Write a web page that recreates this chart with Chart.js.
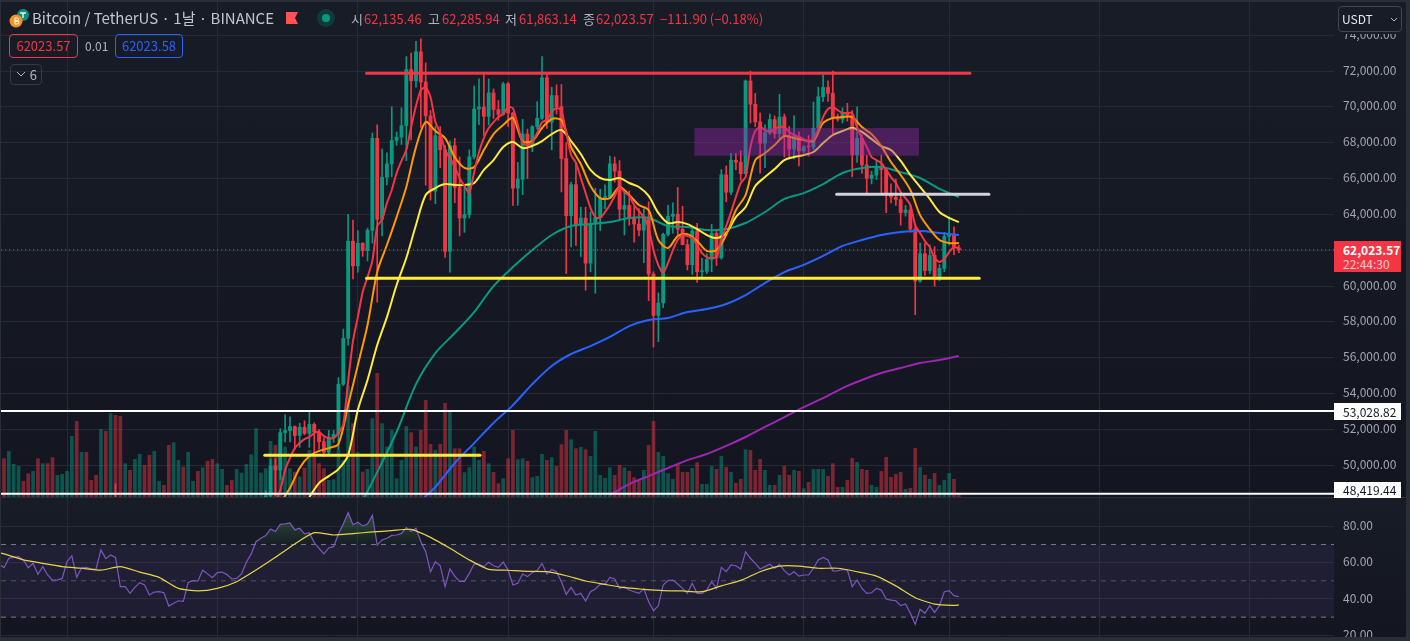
<!DOCTYPE html>
<html>
<head>
<meta charset="utf-8">
<script src="https://cdn.jsdelivr.net/npm/chart.js@4"></script>
<style>
html, body { margin: 0; padding: 0; width: 1410px; height: 641px; overflow: hidden; background: #2a2e39; }
body { position: relative; font-family: "Noto Sans CJK KR", "Noto Sans", sans-serif; }
.pane { position: absolute; left: 1px; width: 1405px; }
#pricePane { top: 2px; height: 495px; background: linear-gradient(#181c27, #131620); }
#rsiPane { top: 498px; height: 139px; background: linear-gradient(#181c27, #131620); }
canvas { display: block; }
.abs { position: absolute; white-space: nowrap; }
.tag { position: absolute; left: 1334px; width: 67px; box-sizing: border-box; padding-left: 9px; font-size: 12px; }
#legend span { position: absolute; top: 10px; font-size: 13px; line-height: 18px; white-space: nowrap; }
.lbl { color: #b2b5be; }
.val { color: #f23645; }
.box { position: absolute; box-sizing: border-box; border-radius: 4px; text-align: center; font-size: 13px; }
</style>
</head>
<body>
<div class="pane" id="pricePane"><canvas id="price" width="1405" height="495"></canvas></div>
<div class="pane" id="rsiPane"><canvas id="rsi" width="1405" height="139"></canvas></div>

<svg class="abs" style="left:8px;top:7px" width="24" height="22">
  <circle cx="15" cy="8" r="6" fill="#0b8f7c"/>
  <path d="M12 6h6M15 6v5" stroke="#e8f5f2" stroke-width="1.4"/>
  <circle cx="8" cy="14" r="6.5" fill="#f7931a"/>
  <path d="M7 10.5v7M7 11h2a1.4 1.4 0 0 1 0 3H7M7 14h2.4a1.5 1.5 0 0 1 0 3H7" stroke="#fff" stroke-width="1" fill="none"/>
</svg>
<div class="abs" id="title" style="left:32px;top:8px;font-size:15px;line-height:20px;color:#c3c6ce">Bitcoin / TetherUS · 1날 · BINANCE</div>
<svg class="abs" style="left:286px;top:12px" width="13" height="12"><path d="M0 0H12L9 6L12 12H0Z" fill="#ff5252"/></svg>
<svg class="abs" style="left:317px;top:9px" width="18" height="18"><circle cx="9" cy="9" r="9" fill="#0f3a3a"/><circle cx="9" cy="9" r="4" fill="#089981"/></svg>
<div id="legend">
  <span class="lbl" style="left:351px">시</span><span class="val" style="left:364px">62,135.46</span>
  <span class="lbl" style="left:428px">고</span><span class="val" style="left:442px">62,285.94</span>
  <span class="lbl" style="left:505px">저</span><span class="val" style="left:519px">61,863.14</span>
  <span class="lbl" style="left:583px">종</span><span class="val" style="left:596px">62,023.57</span>
  <span class="val" style="left:660px">−111.90 (−0.18%)</span>
</div>
<div class="box" style="left:9px;top:34px;width:69px;height:24px;line-height:22px;border:1px solid #f23645;color:#f23645">62023.57</div>
<div class="abs" style="left:85px;top:37px;font-size:12px;line-height:18px;color:#b2b5be">0.01</div>
<div class="box" style="left:115px;top:34px;width:68px;height:24px;line-height:22px;border:1px solid #2962ff;color:#2962ff">62023.58</div>
<div class="box" style="left:10px;top:64px;width:32px;height:21px;border:1px solid #363a45;line-height:19px;color:#b2b5be;text-align:right;padding-right:4px">6
  <svg class="abs" style="left:5px;top:6px" width="10" height="7"><path d="M1 1L5 5L9 1" stroke="#b2b5be" fill="none"/></svg>
</div>
<div class="box" style="left:1338px;top:6px;width:64px;height:26px;border:1px solid #434651;background:#181c27;box-shadow:0 2px 0 #181c27;color:#e6e8ee;font-size:12px;line-height:24px;text-align:left;padding-left:3px">USDT
  <svg class="abs" style="left:51px;top:10px" width="8" height="6"><path d="M1 1L4 4L7 1" stroke="#b2b5be" fill="none"/></svg>
</div>

<script>
// bar numbers: 0 is the left-most daily bar, months start at these bars
const monthStarts = [13, 44, 73, 104, 134, 165, 195, 226, 257];
const firstBar = -0.62;
const lastBar = 274.4;

const priceTicks = [74000, 72000, 70000, 68000, 66000, 64000, 62000, 60000, 58000, 56000, 54000, 52000, 50000];
const rsiTicks = [80, 60, 40, 20];

// candles, first one is bar 54
const candleStart = 54;
const opens = [47800,48293,49958,49742,51826,51938,52160,51662,52122,51780,52284,51860,51320,50731,51571,51733,54522,57085,62504,61130,62387,61987,63113,68245,63724,66074,66823,68124,68313,68955,72078,71452,73072,71388,69499,65300,68393,67609,61937,67840,65501,63796,63990,67209,69880,69988,69469,70780,69850,69582,71280,69650,65463,65963,68487,67820,68896,69360,71620,69146,70631,70006,67116,63924,65661,63419,63793,61277,63470,63818,64940,64960,66819,66414,64289,64498,63770,63461,63118,63866,60672,58364,59060,62882,63892,64012,63165,62312,61193,63074,60799,60825,61483,62940,61577,66206,65235,67024,66915,66274,71446,70148,69166,67969,68549,69290,68507,69436,68398,67652,68352,67540,67766,67765,68809,70567,71082,70757,69342,69310,69648,69538,67321,68243,66756,66011,66191,66639,66490,65140,64960,64828,64096,64245,63180,60277,61806,60864,61706,60427,60986,62772,62900,62135.46];
const highs = [48592,50334,50368,52043,52816,52700,52200,52350,52480,53000,52371,52000,51540,51950,51950,54900,57600,64000,63680,63100,62430,63230,68540,69000,67650,67430,70000,68600,69940,72800,73000,73650,73800,72450,69800,68900,68900,67850,68100,68240,67200,65500,67600,71160,71560,71780,71550,71000,70350,71370,71370,69700,66900,69300,68760,68950,70300,72800,71780,71100,71230,71250,68000,65800,66870,64400,64400,64130,65450,65400,65650,67250,67200,67000,65300,65300,64450,64320,64300,64700,60800,59620,62950,64500,64650,65500,64450,62600,63200,63500,61550,61800,63450,63150,66500,66700,67400,67400,67550,71500,72000,70750,69650,69000,69600,69500,70700,69600,68900,69500,68600,67850,68400,70270,71100,71780,71450,72000,69600,69950,70200,69800,70000,68450,67300,66400,67000,67300,66600,65700,65970,65150,64500,64550,63360,62400,62400,62300,62200,61200,63000,63860,63300,62285.94];
const lows = [47500,47710,48300,49225,51300,51300,50900,51000,51700,51000,50700,50900,50500,50560,51280,50900,54450,56700,60400,60770,61660,61400,62400,59100,62800,65640,66100,67860,67900,67000,68150,71100,68850,65630,64800,64600,66600,61600,60780,64650,62800,63000,63800,67100,69000,68400,69000,69350,69250,69550,68900,64500,64500,65100,66000,67500,68750,69300,68800,67600,69600,65250,60700,62180,62274,61650,59770,60800,59600,63100,64300,64900,65800,63700,62850,63400,62450,62800,61300,59190,56600,56900,58800,62800,62950,62850,62300,60900,60650,60200,60500,60700,60800,61150,61500,64700,65100,66500,65900,66250,69100,68900,66300,66600,68450,68250,68200,67200,67100,67100,66700,67450,67250,67600,68500,70300,70300,68500,69200,69100,69200,66100,66900,66300,65100,65700,65950,65100,64100,64640,64500,63400,63900,63000,58400,60200,60600,60700,60000,60300,60800,62300,61750,61863.14];
const closes = [48293,49958,49742,51826,51938,52160,51662,52122,51780,52284,51860,51320,50731,51571,51733,54522,57085,62504,61130,62387,61987,63113,68245,63724,66074,66823,68124,68313,68955,72078,71452,73072,71388,69499,65300,68393,67609,61937,67840,65501,63796,63990,67209,69880,69988,69469,70780,69850,69582,71280,69650,65463,65963,68487,67820,68896,69360,71620,69146,70631,70006,67116,63924,65661,63419,63793,61277,63470,63818,64940,64960,66819,66414,64289,64498,63770,63461,63118,63866,60672,58364,59060,62882,63892,64012,63165,62312,61193,63074,60799,60825,61483,62940,61577,66206,65235,67024,66915,66274,71446,70148,69166,67969,68549,69290,68507,69436,68398,67652,68352,67540,67766,67765,68809,70567,71082,70757,69342,69310,69648,69538,67321,68243,66756,66011,66191,66639,66490,65140,64960,64828,64096,64245,63180,60277,61806,60864,61706,60427,60986,62772,62900,62135,62023.57];
// the one older wick that pokes up into view
const earlyWickBar = 23;
const earlyWickLow = 45600;
const earlyWickHigh = 48969;

// volume in the scale of the pane, one value per bar from bar 0
const volumes = [115,137,98,92,47,70,77,115,100,100,118,65,68,77,182,227,134,134,50,65,203,197,250,245,242,100,80,113,128,95,125,137,47,35,155,163,110,90,134,47,77,88,107,113,100,83,35,50,83,72,98,127,205,72,85,167,155,170,150,85,75,60,87,140,128,100,85,50,52,142,110,333,220,133,75,83,235,371,220,150,200,55,110,212,193,150,200,290,158,140,158,281,254,145,145,73,88,150,110,137,100,74,40,55,115,200,112,115,107,58,62,128,110,118,92,157,200,172,145,149,142,122,197,65,56,88,65,95,88,77,58,50,80,155,227,134,122,70,53,98,74,74,86,103,38,38,92,83,122,89,74,41,53,142,140,80,113,80,35,35,65,92,65,80,77,25,44,83,83,83,62,100,29,29,50,116,104,83,80,35,29,77,119,59,68,74,23,26,146,89,65,53,71,35,50,71,53,5];
const volumeMax = 1485;
// 1 = up bar, 0 = down bar, for the bars older than the candles
const earlyVolumeUp = [0,1,1,1,0,0,1,0,1,0,0,1,1,1,1,0,1,0,0,0,1,0,1,0,0,1,0,1,1,0,0,1,1,0,0,1,1,0,1,1,0,1,0,0,1,1,0,0,1,1,1,1,1,1];

// moving averages, each one [start bar, step in bars, values]
const redAvgStart = 56;
const redAvg = [47900,48620,49735,50400,50960,51240,51465,51580,51800,51860,51630,51520,51520,51800,52300,54700,56930,58270,59670,60500,61400,63350,63690,64630,65360,66300,66980,67590,68870,70050,70940,71100,70550,69150,68540,67590,67150,66640,66030,65580,65190,66360,67480,68260,68820,69150,69430,69600,69990,69930,68990,67980,67870,68040,68540,69150,69260,69710,69930,69820,68540,67310,66870,66030,65190,64360,63850,63800,64130,64520,65030,65530,65250,65030,64520,64190,63850,63240,62010,61170,60730,61290,62010,62570,62850,62790,62680,62290,61840,61620,61560,61620,62570,63350,64130,64970,65750,66080,67760,68650,68870,68710,68600,68760,68870,68870,68600,68430,68320,68200,68090,68200,68760,69430,69880,69990,69820,69660,69660,69660,68870,68260,67760,67200,67030,66870,66480,66080,65750,65250,64910,64520,63400,62960,62510,62180,61560,61340,61510,61900,62180,62120];
const orangeAvgStart = 57;
const orangeAvg = [47900,48730,49850,50520,50800,50960,51190,53360,55590,57830,60780,62290,63850,65530,67760,69150,68650,68260,67200,66590,66640,67590,68480,68990,69380,68090,68090,68820,69320,69260,67760,66810,65580,64910,64910,65530,65080,64520,64240,62570,62120,62790,62900,62510,61960,62010,62850,64240,65080,67030,67420,67870,68370,68260,68150,68090,69100,69380,69430,69430,68870,68480,67810,66920,66200,65360,63960,63180,62570,62400,62400];
const yellowAvgStart = 63;
const yellowAvg = [48230,49010,49400,49790,50570,53080,54760,56710,58270,60060,61570,63410,65080,65470,65690,65640,65640,65750,66480,67030,67760,68040,67700,67820,68090,68480,68710,68090,67370,66480,66030,65920,66030,65750,65530,65030,64080,63520,63570,63460,63180,62850,62680,62960,63850,64410,65580,66080,66530,67030,67200,67310,67480,67980,68430,68650,68820,68600,68200,67810,67590,66980,66200,65530,64860,64130,63800,63570];
const greenAvgStart = 73;
const greenAvg = [47500,49620,51860,54530,56260,57380,58550,60000,61060,62010,62850,63350,63460,63570,63800,63800,63350,63290,63130,63180,63520,64130,64860,65190,65690,66310,66590,66640,66360,66030,65420,64970];
const blueAvgStart = 85;
const blueAvg = [47780,48790,50130,51240,52360,53360,54530,55540,56210,56650,57160,57770,58110,58220,58550,58720,59000,59500,60170,60780,61180,61680,62240,62570,62850,63020,63070,62960,62850];
const purpleAvgStart = 125;
const purpleAvg = [48340,48950,49400,49850,50290,50630,51080,51580,52140,52690,53250,53750,54310,54760,55150,55430,55710,55870,56100];

// hand drawn levels on the chart: [from bar, to bar, price]
const redLevel = [74.8, 199.3, 71870];
const yellowLevel = [74.8, 201.2, 60430];
const greyLevel = [171.8, 203.2, 65120];
const lowYellowLevel = [53.8, 98.2, 50560];
const zoneBars = [142.4, 188.8];
const zoneTop = 68820;
const zoneBottom = 67270;
const whiteLevels = [53028.82, 48419.44];
const lastPrice = 62023.57;

// rsi, first value is bar -1
const rsiStart = -1;
const rsiValues = [59.1,57.2,62.4,62.9,63.3,61.5,57.2,59.6,53.6,57.8,53.2,50.4,50.4,51.3,60.5,63.7,51.9,57.2,57.4,56.5,56.5,67.0,62.2,64.2,62.9,46.8,46.8,43.1,46.4,49.0,47.7,42.2,43.8,44.0,43.4,36.1,37.6,39.0,38.7,49.1,50.1,49.9,55.8,53.8,51.7,54.5,54.8,53.4,51.0,51.3,53.8,60.2,64.8,71.5,73.4,74.9,78.5,77.1,81.1,81.3,81.8,78.0,78.9,75.8,76.5,71.0,67.9,64.8,68.1,68.8,75.8,81.3,87.5,80.9,82.2,80.2,81.3,86.1,69.7,72.5,73.4,75.0,75.2,76.1,79.3,77.1,78.9,71.5,66.0,55.0,60.5,58.3,46.8,56.5,52.6,49.7,49.7,54.1,59.2,59.1,57.8,60.2,58.3,57.4,60.3,55.9,47.7,48.6,53.7,52.3,54.5,55.6,59.6,53.7,56.3,55.0,49.5,42.5,46.4,42.2,43.1,38.9,44.0,45.5,48.0,48.0,51.9,51.0,45.8,46.8,44.9,44.0,43.1,45.6,38.5,33.5,36.3,47.7,50.1,50.4,48.2,45.8,43.1,48.6,43.1,43.1,44.9,49.5,45.8,57.4,55.0,58.7,58.3,56.5,66.0,62.4,59.6,56.5,57.8,59.1,56.9,59.1,55.6,53.2,55.0,52.6,53.2,53.2,56.9,61.5,62.9,61.5,55.4,55.4,56.3,55.9,46.8,50.4,45.8,43.1,43.4,45.8,44.9,40.0,39.4,39.0,36.3,37.2,32.1,26.0,34.3,32.1,36.3,32.6,36.3,44.0,44.6,41.8,41.2];
const rsiAvgStart = -4;
const rsiAvg = [68,64.8,61.5,59.6,57.8,56.9,55.9,57.8,54.8,51.9,45.8,44.4,45.8,49.5,55.9,62.9,70.3,76.5,75.2,76.0,76.9,77.6,78.3,73.9,67.9,61.5,56.3,55.8,55.2,55.0,52.8,49.9,48.0,46.2,45.3,44.6,44.4,44.0,47.2,50.2,55.0,58.1,58.1,56.9,56.9,55.0,52.6,47.2,40.7,37.2,36.5];
const rsiAvgEnd = 36.7;
const rsiLevels = [70, 50, 30];

const upColor = '#089981';
const downColor = '#f23645';
const gridColor = '#262a36';
const axisColor = '#a3a6af';
const axisFont = { family: '"Noto Sans CJK KR", "Noto Sans", sans-serif', size: 12 };

const every = (start, step, values) => values.map((y, i) => ({ x: start + i * step, y }));
const level = ([from, to, price]) => [{ x: from, y: price }, { x: to, y: price }];
const fullWidth = (price) => [{ x: firstBar, y: price }, { x: lastBar, y: price }];

const candleBars = opens.map((_, i) => candleStart + i);
const candleColor = opens.map((o, i) => (closes[i] >= o ? upColor : downColor));

const volumeColor = volumes.map((_, i) => {
    const up = i < candleStart ? earlyVolumeUp[i] : closes[i - candleStart] >= opens[i - candleStart];
    return up ? 'rgba(8,153,129,.47)' : 'rgba(242,54,69,.47)';
});

function line(data, color, width, order, extra) {
    return {
        type: 'line', data, borderColor: color, borderWidth: width, order,
        pointRadius: 0, tension: 0, fill: false, yAxisID: 'y', ...extra,
    };
}

function bars(data, color, thickness, order, yAxisID) {
    return {
        type: 'bar', data, backgroundColor: color, barThickness: thickness, order,
        grouped: false, borderWidth: 0, borderSkipped: false, yAxisID,
    };
}

function xAxis() {
    return {
        type: 'linear', min: firstBar, max: lastBar, offset: false,
        grid: { color: gridColor, drawTicks: false, offset: false },
        border: { display: false },
        ticks: { display: false },
        afterBuildTicks: (axis) => { axis.ticks = monthStarts.map((value) => ({ value })); },
        afterFit: (axis) => { axis.height = 0; axis.paddingLeft = 0; axis.paddingRight = 0; },
    };
}

function yAxis(min, max, ticks, format) {
    return {
        type: 'linear', position: 'right', min, max,
        grid: { color: gridColor, drawTicks: false },
        border: { display: false },
        ticks: { color: axisColor, font: axisFont, padding: 9, labelOffset: -1, autoSkip: false, maxRotation: 0, callback: format },
        afterBuildTicks: (axis) => { axis.ticks = ticks.map((value) => ({ value })); },
        afterFit: (axis) => { axis.width = 72; axis.paddingTop = 0; axis.paddingBottom = 0; },
    };
}

const baseOptions = {
    responsive: false,
    animation: false,
    devicePixelRatio: 1,
    layout: { padding: 0 },
    plugins: { legend: { display: false }, tooltip: { enabled: false } },
};

const money = (v) => v.toLocaleString('en-US', { minimumFractionDigits: 2, maximumFractionDigits: 2 });

const priceChart = new Chart(document.getElementById('price'), {
    type: 'bar',
    data: {
        datasets: [
            bars(volumes.map((y, i) => ({ x: i, y })), volumeColor, 3, 100, 'yVol'),
            bars(candleBars.map((x, i) => ({ x, y: [lows[i], highs[i]] })).concat({ x: earlyWickBar, y: [earlyWickLow, earlyWickHigh] }), candleColor.concat(downColor), 1, 90, 'y'),
            { ...bars(candleBars.map((x, i) => ({ x, y: [opens[i], closes[i]] })), candleColor, 3.2, 89, 'y'), minBarLength: 1 },
            line(every(purpleAvgStart, 4, purpleAvg), '#9c27b0', 2, 80, { tension: 0.3 }),
            line(every(blueAvgStart, 4, blueAvg), '#2962ff', 2, 79, { tension: 0.3 }),
            line(every(greenAvgStart, 4, greenAvg), '#089981', 2, 78, { tension: 0.3 }),
            line(every(yellowAvgStart, 2, yellowAvg), '#ffeb3b', 2, 77, { tension: 0.3 }),
            line(every(orangeAvgStart, 2, orangeAvg), '#ff9800', 2, 76, { tension: 0.3 }),
            line(every(redAvgStart, 1, redAvg), '#f23645', 2, 75, { tension: 0.2 }),
            line(fullWidth(lastPrice), downColor, 1, 72, { borderDash: [1, 3] }),
            line(level([zoneBars[0], zoneBars[1], zoneBottom]), 'rgba(0,0,0,0)', 0, 71),
            line(level([zoneBars[0], zoneBars[1], zoneTop]), 'rgba(0,0,0,0)', 0, 70, { fill: '-1', backgroundColor: 'rgba(156,39,176,.4)' }),
            line(level(redLevel), '#f23645', 3, 60, { borderCapStyle: 'round' }),
            line(level(yellowLevel), '#ffeb3b', 3, 59, { borderCapStyle: 'round' }),
            line(level(lowYellowLevel), '#ffeb3b', 3, 58, { borderCapStyle: 'round' }),
            line(level(greyLevel), '#d1d4dc', 3, 57, { borderCapStyle: 'round' }),
            line(fullWidth(whiteLevels[0]), '#ffffff', 2, 56),
            line(fullWidth(whiteLevels[1]), '#ffffff', 2, 55),
        ],
    },
    options: {
        ...baseOptions,
        scales: {
            x: xAxis(),
            y: yAxis(48232, 75850, priceTicks, money),
            yVol: { display: false, min: 0, max: volumeMax },
        },
    },
});

const rsiCtx = document.getElementById('rsi').getContext('2d');
const overbought = rsiCtx.createLinearGradient(0, 12, 0, 47);
overbought.addColorStop(0, 'rgba(76,175,80,.38)');
overbought.addColorStop(1, 'rgba(76,175,80,.02)');

new Chart(rsiCtx, {
    type: 'line',
    data: {
        datasets: [
            line(fullWidth(rsiLevels[0]), '#787b86', 1, 50, { borderDash: [5, 5], fill: { target: { value: rsiLevels[2] } }, backgroundColor: 'rgba(126,87,194,.1)' }),
            line(fullWidth(rsiLevels[1]), 'rgba(120,123,134,.6)', 1, 49, { borderDash: [5, 5] }),
            line(fullWidth(rsiLevels[2]), '#787b86', 1, 48, { borderDash: [5, 5] }),
            line(every(rsiStart, 1, rsiValues), '#7e57c2', 1.2, 20, { fill: { target: { value: rsiLevels[0] }, above: overbought, below: 'rgba(0,0,0,0)' } }),
            line(every(rsiAvgStart, 4, rsiAvg).concat({ x: 197, y: rsiAvgEnd }), '#e8d44a', 1.2, 10, { tension: 0.2 }),
        ],
    },
    options: {
        ...baseOptions,
        scales: {
            x: xAxis(),
            y: yAxis(19.06, 95.58, rsiTicks, (v) => v.toFixed(2)),
        },
    },
});

// value tags sit on the price axis, placed from the axis itself
function addTag(price, shift, height, text, style) {
    const el = document.createElement('div');
    el.className = 'tag';
    el.style.cssText = style + `;height:${height}px;top:${2 + priceChart.scales.y.getPixelForValue(price) + shift}px`;
    el.innerHTML = text;
    document.body.appendChild(el);
}

addTag(lastPrice, -9, 31, '<div style="line-height:15px;padding-top:1px;font-weight:700">62,023.57</div><div style="line-height:13px;color:rgba(255,255,255,.72)">22:44:30</div>', 'background:#f23645;color:#fff');
addTag(whiteLevels[0], -8, 17, money(whiteLevels[0]), 'background:#fff;color:#131722;line-height:17px');
addTag(whiteLevels[1], -12, 16, money(whiteLevels[1]), 'background:#fff;color:#131722;line-height:16px');
</script>
</body>
</html>
